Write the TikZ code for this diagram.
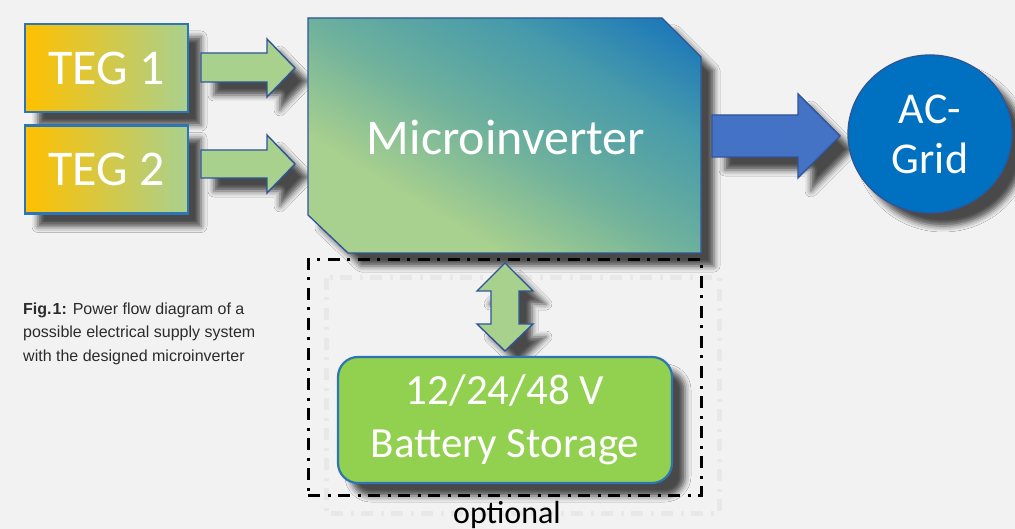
\documentclass[tikz,border=0pt]{standalone}
\usepackage{fontspec}
\setmainfont{Carlito}
\newfontfamily\capfont{Liberation Sans}
\usetikzlibrary{shadows.blur,shapes.geometric}
\definecolor{bg}{HTML}{F2F2F2}
\definecolor{tegorange}{HTML}{FFC000}
\definecolor{teggreen}{HTML}{A9D18E}
\definecolor{boxblue}{HTML}{2E75B6}
\definecolor{darkblue}{HTML}{2F5597}
\definecolor{migreen}{HTML}{A8D08E}
\definecolor{mitealA}{HTML}{6DB09D}
\definecolor{mitealB}{HTML}{469AAB}
\definecolor{miblue}{HTML}{1270BC}
\definecolor{arrblue}{HTML}{4472C4}
\definecolor{gridblue}{HTML}{0070C0}
\definecolor{battgreen}{HTML}{92D050}
\definecolor{captext}{HTML}{2B2B2B}
\pgfdeclarehorizontalshading{mishade}{100bp}{color(0bp)=(migreen); color(39.8bp)=(migreen); color(50bp)=(mitealA); color(60bp)=(mitealB); color(70.3bp)=(miblue); color(100bp)=(miblue)}
\begin{document}
\begin{tikzpicture}[x=1pt,y=-1pt,
  shad/.style={blur shadow={shadow xshift=13pt, shadow yshift=-13pt, shadow blur radius=6pt, shadow opacity=70}},
  tegbox/.style={shad, draw=boxblue, line width=2.2pt, left color=tegorange, right color=teggreen,
    minimum width=163pt, minimum height=88pt, inner sep=0pt, text=white, font=\fontsize{50}{60}\selectfont},
  greenarrow/.style={shad, fill=teggreen, draw=darkblue, line width=1.4pt, line join=miter},
  bluearrow/.style={shad, fill=arrblue, draw=darkblue, line width=1.4pt, line join=miter},
  whitetext/.style={text=white, inner sep=0pt},
  optdash/.style={dash pattern=on 12pt off 7.5pt on 3pt off 7.5pt},
  optframe/.style={optdash, draw=black, line width=3pt},
]
\useasboundingbox (0,0) rectangle (1015,529);
\fill[bg] (0,0) rectangle (1015,529);

% faint shadow of the optional frame
\draw[black!12, line width=5pt, opacity=0.55, optdash] (326,278) rectangle (719,513);

% TEG boxes
\node[tegbox] (teg1) at (106.5,68) {TEG 1};
\node[tegbox] (teg2) at (106.5,169.5) {TEG 2};

% green input arrows
\path[greenarrow] (201,53) -- (267,53) -- (267,39) -- (295,68) -- (267,97) -- (267,82) -- (201,82) -- cycle;
\path[greenarrow] (201,150) -- (267,150) -- (267,135) -- (295,164) -- (267,193) -- (267,178) -- (201,178) -- cycle;

% Microinverter shape
\coordinate (m1) at (308,18);
\coordinate (m2) at (662,18);
\coordinate (m3) at (701,57);
\coordinate (m4) at (701,253);
\coordinate (m5) at (348,253);
\coordinate (m6) at (308,215);
\path[shad, fill=migreen] (m1) -- (m2) -- (m3) -- (m4) -- (m5) -- (m6) -- cycle;
\begin{scope}
  \clip (m1) -- (m2) -- (m3) -- (m4) -- (m5) -- (m6) -- cycle;
  \shade[shading=mishade, shading angle=59] (254.5,-114.5) rectangle (754.5,385.5);
\end{scope}
\draw[darkblue, line width=1.3pt] (m1) -- (m2) -- (m3) -- (m4) -- (m5) -- (m6) -- cycle;
\node[whitetext, font=\fontsize{50}{60}\selectfont] (mi) at (506,137.5) {Microinverter};

% blue output arrow
\path[bluearrow] (712,115) -- (798,115) -- (798,94) -- (840,136) -- (798,178) -- (798,157) -- (712,157) -- cycle;

% AC grid
\node[shad, ellipse, fill=gridblue, draw=darkblue, line width=1.3pt, minimum width=164pt, minimum height=158pt,
  inner sep=0pt, text=white, align=center, font=\fontsize{44}{50}\selectfont] (grid) at (930,134) {AC-\\Grid};

% optional frame
\node[optframe, minimum width=393pt, minimum height=235.5pt, inner sep=0pt] (optbox) at (504.5,377.25) {};
\node[anchor=base, inner sep=0pt, font=\fontsize{32}{38}\selectfont, text=black] (optlabel) at (507,523) {optional};

% bidirectional arrow
\path[greenarrow] (505,263) -- (533,291) -- (519,291) -- (519,324) -- (533,324) -- (505,351)
  -- (477,324) -- (491,324) -- (491,291) -- (477,291) -- cycle;

% battery
\node[shad, rectangle, rounded corners=20pt, fill=battgreen, draw=boxblue, line width=2.2pt,
  minimum width=334pt, minimum height=126pt, inner sep=0pt, text=white, align=center,
  font=\fontsize{43}{53}\selectfont] (batt) at (505,420) {12/24/48 V\\Battery Storage};

% caption
\node[anchor=north west, inner sep=0pt, align=left, text=captext,
  font=\capfont\fontsize{16}{23.5}\selectfont] (caption) at (23,302.5)
  {\textbf{Fig.\kern1pt1:} Power flow diagram of a\\possible electrical supply system\\with the designed microinverter};
\end{tikzpicture}
\end{document}
